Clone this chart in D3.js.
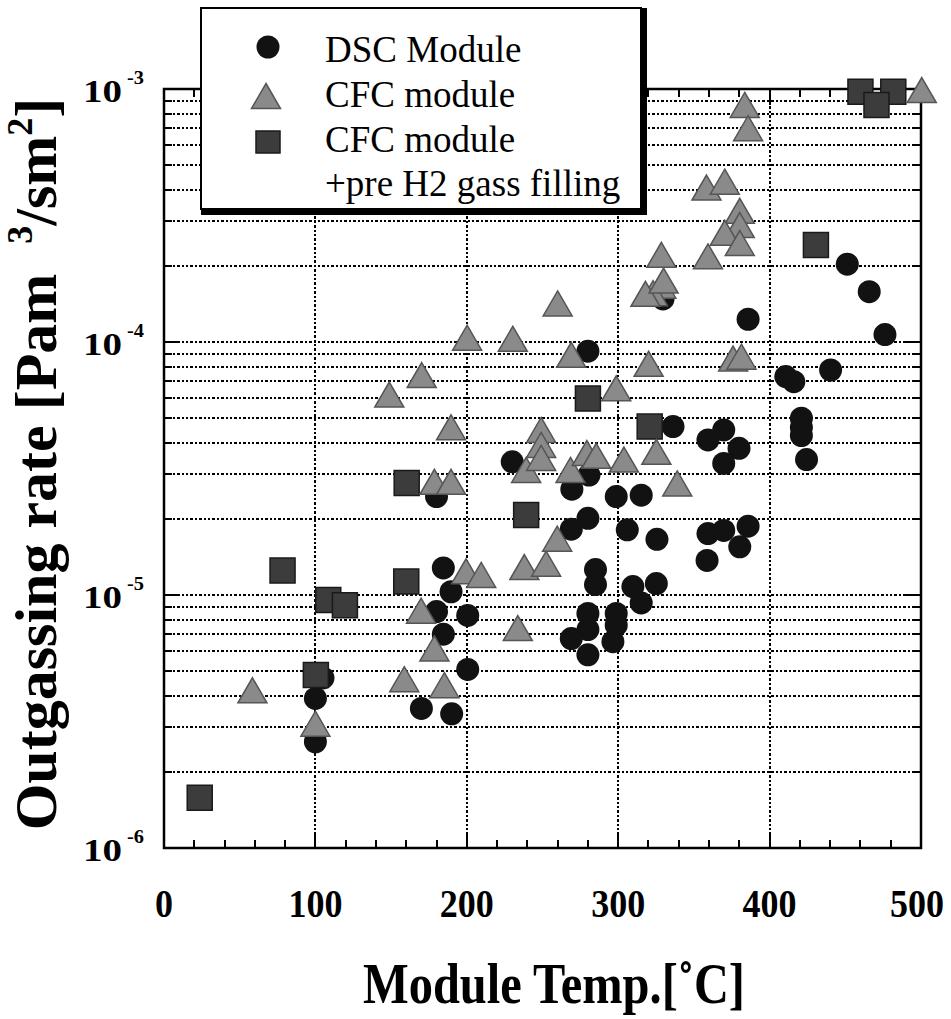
<!DOCTYPE html>
<html>
<head>
<meta charset="utf-8">
<script src="https://cdn.jsdelivr.net/npm/d3@7"></script>
<style>
  html, body { margin: 0; padding: 0; background: #fff; }
  svg { display: block; }
  text { font-family: "Liberation Serif", "Times New Roman", serif; fill: #000; }
</style>
</head>
<body>
<svg id="chart" width="951" height="1019"></svg>
<script>
// ---- data: module temperature [°C] and outgassing rate [Pa m3/s m2] ----
const dscTemp = [100, 100, 105, 170, 190, 200.6, 184.5, 180, 200.6, 189.6, 184.5, 180,
  230, 280, 280.7, 269.4, 298.7, 315.2, 269, 280, 306, 325.6, 285, 285, 309.7, 325.2,
  315.2, 280, 280, 269, 280, 298.7, 298.7, 296.5, 329.6, 385.8, 465.8, 451.3, 476.2,
  410.7, 416, 440.3, 336.2, 369.7, 359.3, 379.8, 369.7, 421, 421, 421, 424.4, 359.3,
  369.7, 385.8, 380.3, 358.7];
const dscRate = [2.63e-6, 3.9e-6, 4.7e-6, 3.56e-6, 3.39e-6, 5.08e-6, 7.0e-6, 8.6e-6, 8.3e-6,
  1.03e-5, 1.28e-5, 2.45e-5, 3.36e-5, 9.2e-5, 2.98e-5, 2.62e-5, 2.45e-5, 2.48e-5, 1.82e-5,
  2.01e-5, 1.81e-5, 1.66e-5, 1.26e-5, 1.1e-5, 1.08e-5, 1.11e-5, 9.3e-6, 8.45e-6, 7.3e-6,
  6.73e-6, 5.8e-6, 8.45e-6, 7.6e-6, 6.54e-6, 1.48e-4, 1.23e-4, 1.58e-4, 2.03e-4, 1.07e-4,
  7.3e-5, 6.97e-5, 7.75e-5, 4.63e-5, 4.49e-5, 4.1e-5, 3.8e-5, 3.31e-5, 5.0e-5, 4.6e-5,
  4.27e-5, 3.43e-5, 1.75e-5, 1.8e-5, 1.87e-5, 1.55e-5, 1.37e-5];

const cfcTemp = [58.4, 100, 158.7, 185.2, 178.6, 169.8, 199.5, 209.5, 178.6, 189.6, 189.6,
  148.8, 170.2, 200.2, 230.4, 260, 233.7, 238, 252.4, 239.2, 249.1, 249.1, 249.1, 259.7,
  268.5, 279.3, 285.5, 269, 303.8, 298.7, 320.1, 325.2, 339, 375.9, 381.4, 383.6, 385.8,
  358.3, 370.4, 380.3, 380.3, 370.4, 380.3, 359.3, 328.5, 328.5, 323, 318, 330, 500.5];
const cfcRate = [4.2e-6, 3.1e-6, 4.65e-6, 4.4e-6, 6.15e-6, 8.67e-6, 1.24e-5, 1.2e-5, 2.8e-5,
  2.8e-5, 4.6e-5, 6.2e-5, 7.4e-5, 1.04e-4, 1.03e-4, 1.42e-4, 7.4e-6, 1.29e-5, 1.33e-5,
  3.12e-5, 4.49e-5, 3.92e-5, 3.48e-5, 1.67e-5, 3.12e-5, 3.64e-5, 3.55e-5, 8.9e-5, 3.43e-5,
  6.56e-5, 8.2e-5, 3.68e-5, 2.76e-5, 8.6e-5, 8.75e-5, 8.65e-4, 7.0e-4, 4.08e-4, 4.3e-4,
  3.3e-4, 2.9e-4, 2.7e-4, 2.46e-4, 2.18e-4, 2.21e-4, 1.67e-4, 1.56e-4, 1.55e-4, 1.75e-4,
  9.9e-4];

const h2Temp = [23.6, 100.3, 78.3, 108.5, 119.5, 160, 160.3, 239.2, 280, 320.8, 430.6,
  460, 481.7, 470.6];
const h2Rate = [1.58e-6, 4.83e-6, 1.25e-5, 9.55e-6, 9.1e-6, 1.13e-5, 2.77e-5, 2.07e-5,
  5.98e-5, 4.63e-5, 2.42e-4, 9.75e-4, 9.75e-4, 8.65e-4];

const xTicks = [0, 100, 200, 300, 400, 500];
const xMinorTicks = d3.range(20, 500, 20).filter(v => v % 100 !== 0);
const yTicks = [1e-6, 1e-5, 1e-4, 1e-3];
const yTickExponents = ["-6", "-5", "-4", "-3"];
const legendLabels = ["DSC Module", "CFC module", "CFC module", "+pre H2 gass filling"];
const xTitle = "Module Temp.[\u02DAC]";

// ---- layout ----
const svg = d3.select("#chart");
const x = d3.scaleLinear().domain([0, 500]).range([164, 921]);
const y = d3.scaleLog().domain([1e-6, 1e-3]).range([848, 89]);
const [x0, x1] = x.range();
const [yB, yT] = y.range();

svg.append("rect").attr("width", 951).attr("height", 1019).attr("fill", "#fff");

// minor log positions 2..9 × 10^n plus interior decades
const yMinor = [];
[1e-6, 1e-5, 1e-4].forEach(d => { for (let k = 2; k <= 9; k++) yMinor.push(k * d); });
const yGrid = yMinor.concat([1e-5, 1e-4]);

// dotted grid
const grid = svg.append("g")
  .attr("stroke", "#000").attr("stroke-width", 2.4).attr("stroke-dasharray", "2.4 2")
  .attr("shape-rendering", "crispEdges");
grid.selectAll("line.h").data(yGrid).join("line")
  .attr("x1", x0).attr("x2", x1)
  .attr("y1", d => Math.round(y(d))).attr("y2", d => Math.round(y(d)));
grid.selectAll("line.v").data([100, 200, 300, 400]).join("line")
  .attr("x1", d => Math.round(x(d))).attr("x2", d => Math.round(x(d)))
  .attr("y1", yB).attr("y2", yT);

// inward ticks on all four sides
const ticks = svg.append("g").attr("stroke", "#000").attr("stroke-width", 2)
  .attr("shape-rendering", "crispEdges");
function yTickLines(values, len) {
  ticks.append("g").selectAll("line").data(values).join("line")
    .attr("x1", x0).attr("x2", x0 + len)
    .attr("y1", d => Math.round(y(d))).attr("y2", d => Math.round(y(d)));
  ticks.append("g").selectAll("line").data(values).join("line")
    .attr("x1", x1).attr("x2", x1 - len)
    .attr("y1", d => Math.round(y(d))).attr("y2", d => Math.round(y(d)));
}
yTickLines(yMinor, 8);
yTickLines([1e-5, 1e-4], 16);
function xTickLines(values, len) {
  ticks.append("g").selectAll("line").data(values).join("line")
    .attr("x1", d => Math.round(x(d))).attr("x2", d => Math.round(x(d)))
    .attr("y1", yB).attr("y2", yB - len);
  ticks.append("g").selectAll("line").data(values).join("line")
    .attr("x1", d => Math.round(x(d))).attr("x2", d => Math.round(x(d)))
    .attr("y1", yT).attr("y2", yT + len);
}
xTickLines(xMinorTicks, 8);
xTickLines([100, 200, 300, 400], 16);

// frame
svg.append("rect")
  .attr("x", x0).attr("y", yT).attr("width", x1 - x0).attr("height", yB - yT)
  .attr("fill", "none").attr("stroke", "#000").attr("stroke-width", 2.5);

// x tick labels
svg.append("g").selectAll("text").data(xTicks).join("text")
  .attr("x", d => x(d) - (d === 500 ? 4 : 0)).attr("y", 917)
  .attr("text-anchor", "middle")
  .attr("font-weight", "bold").attr("font-size", 40)
  .attr("textLength", d => String(d).length * 18)
  .attr("lengthAdjust", "spacingAndGlyphs")
  .text(d => String(d));

// y tick labels: 10 with superscript exponent
const yl = svg.append("g").selectAll("g").data(yTicks).join("g");
yl.append("text")
  .attr("x", 83).attr("y", d => y(d) + 13)
  .attr("font-weight", "bold").attr("font-size", 32)
  .attr("textLength", 39).attr("lengthAdjust", "spacingAndGlyphs")
  .text("10");
yl.append("text")
  .attr("x", 127).attr("y", d => y(d) - 5)
  .attr("font-weight", "bold").attr("font-size", 19)
  .attr("textLength", 17).attr("lengthAdjust", "spacingAndGlyphs")
  .text((d, i) => yTickExponents[i]);

// axis titles
svg.append("text")
  .attr("x", 363).attr("y", 1003)
  .attr("font-weight", "bold").attr("font-size", 56)
  .attr("textLength", 382).attr("lengthAdjust", "spacingAndGlyphs")
  .text(xTitle);

const yTitle = svg.append("text")
  .attr("transform", "translate(56,464) rotate(-90)")
  .attr("text-anchor", "middle")
  .attr("font-weight", "bold").attr("font-size", 60)
  .attr("xml:space", "preserve");
yTitle.append("tspan").text("Outgassing rate [Pam  ");
yTitle.append("tspan").attr("font-size", 36).attr("dy", -24).text("3");
yTitle.append("tspan").attr("dy", 24).text("/sm");
yTitle.append("tspan").attr("font-size", 36).attr("dy", -24).text("2");
yTitle.append("tspan").attr("dy", 24).text("]");

// markers
const circleR = 11.5;
const triW = 29, triH = 25, sq = 25;
const triPath = `M0,${-triH / 2}L${triW / 2},${triH / 2}L${-triW / 2},${triH / 2}Z`;
const sqPath = `M${-sq / 2},${-sq / 2}h${sq}v${sq}h${-sq}Z`;

const marks = svg.append("g");
marks.append("g").selectAll("circle").data(d3.range(dscTemp.length)).join("circle")
  .attr("cx", i => x(dscTemp[i])).attr("cy", i => y(dscRate[i]))
  .attr("r", circleR).attr("fill", "#121212");
marks.append("g").selectAll("path").data(d3.range(h2Temp.length)).join("path")
  .attr("transform", i => `translate(${x(h2Temp[i])},${y(h2Rate[i])})`)
  .attr("d", sqPath).attr("fill", "#3c3c3c").attr("stroke", "#1a1a1a").attr("stroke-width", 1.5);
marks.append("g").selectAll("path").data(d3.range(cfcTemp.length)).join("path")
  .attr("transform", i => `translate(${x(cfcTemp[i])},${y(cfcRate[i])})`)
  .attr("d", triPath).attr("fill", "#8a8a8a").attr("stroke", "#555").attr("stroke-width", 1.5);

// legend box with heavy right/bottom edge
const lg = svg.append("g");
lg.append("rect").attr("x", 201).attr("y", 8).attr("width", 440).attr("height", 201)
  .attr("fill", "#fff").attr("stroke", "#000").attr("stroke-width", 2);
lg.append("rect").attr("x", 640).attr("y", 8).attr("width", 7).attr("height", 207).attr("fill", "#000");
lg.append("rect").attr("x", 201).attr("y", 208).attr("width", 446).attr("height", 7).attr("fill", "#000");

const legendY = [62, 107, 152, 196];
lg.append("circle").attr("cx", 268).attr("cy", 47).attr("r", circleR).attr("fill", "#121212");
lg.append("path").attr("transform", "translate(266,96)").attr("d", triPath)
  .attr("fill", "#8a8a8a").attr("stroke", "#555").attr("stroke-width", 1.5);
lg.append("path").attr("transform", "translate(268,142)")
  .attr("d", `M-12,-11h24v22h-24Z`)
  .attr("fill", "#3c3c3c").attr("stroke", "#1a1a1a").attr("stroke-width", 1.5);
lg.selectAll("text").data(legendLabels).join("text")
  .attr("x", 325).attr("y", (d, i) => legendY[i])
  .attr("font-size", 37)
  .text(d => d);
</script>
</body>
</html>
